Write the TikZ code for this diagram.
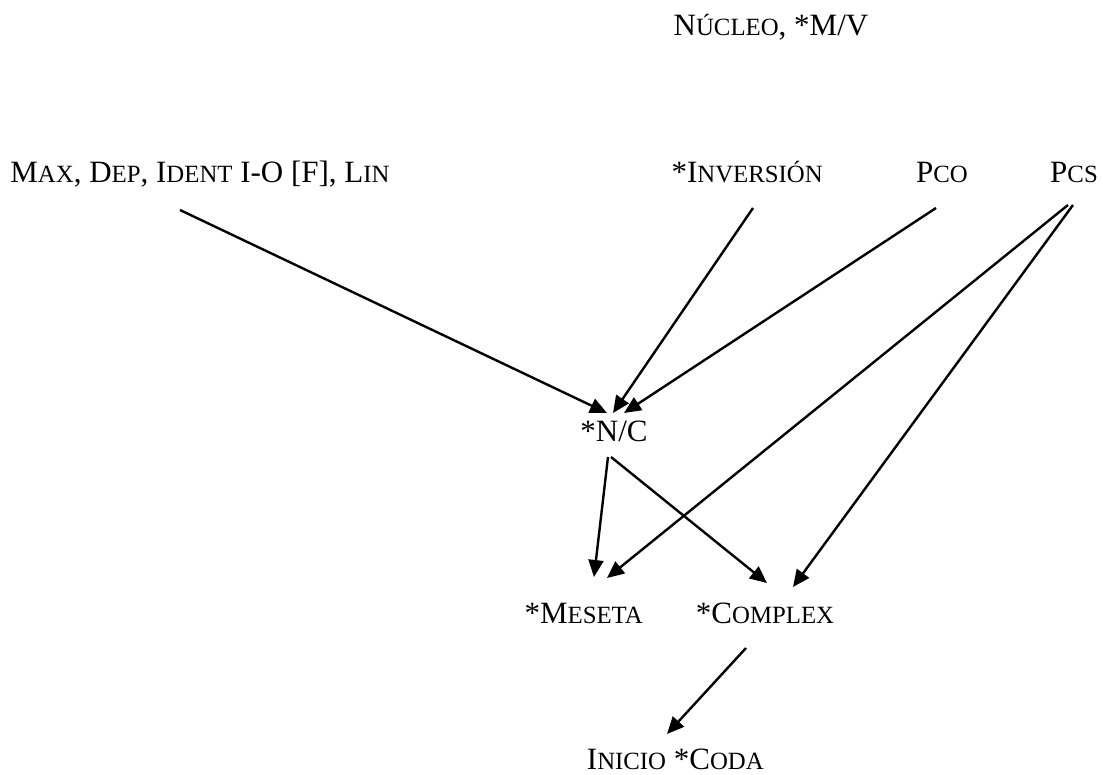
\documentclass[tikz,border=0pt]{standalone}
\usepackage{fontspec}
\setmainfont{Liberation Serif}
\usetikzlibrary{arrows.meta}
% hand-made small capitals: a full capital followed by reduced capitals
\newcommand\bigsz{\fontsize{31}{32}\selectfont}
\newcommand\smlsz{\fontsize{24.8}{26}\selectfont}
\newcommand\sk[2]{#1{\smlsz #2}}
\tikzset{
  lbl/.style={inner sep=0pt, font=\bigsz, anchor=base},
  arr/.style={line width=2.4pt, -{Triangle[length=17pt,width=15pt]}},
}
\begin{document}
\begin{tikzpicture}[x=1pt,y=-1pt]
\useasboundingbox (0,0) rectangle (1103,775);
% constraint labels
\node[lbl] (nuc)  at (771,36)  {\sk{N}{ÚCLEO}, *M/V};
\node[lbl] (max)  at (200,183) {\sk{M}{AX}, \sk{D}{EP}, \sk{I}{DENT} I-O [F], \sk{L}{IN}};
\node[lbl, anchor=base east] (inv) at (823,183) {*\sk{I}{NVERSIÓN}};
\node[lbl] (pco)  at (942,183) {\sk{P}{CO}};
\node[lbl] (pcs)  at (1074,183) {\sk{P}{CS}};
\node[lbl] (nc)   at (614,441) {*N/C};
\node[lbl, anchor=base east] (mes) at (643,623) {*\sk{M}{ESETA}};
\node[lbl] (cpx)  at (765,623) {*\sk{C}{OMPLEX}};
\node[lbl, anchor=base east, text depth=0pt] (ini) at (764,769) {\sk{I}{NICIO} *\sk{C}{ODA}};
% arrow end points
\coordinate (max-o) at (180,210);
\coordinate (inv-o) at (753,208);
\coordinate (pco-o) at (936,208);
\coordinate (pcs-a) at (1068,205);
\coordinate (pcs-b) at (1073,205);
\coordinate (nc-i1) at (607,413);
\coordinate (nc-i2) at (613,413);
\coordinate (nc-i3) at (624,413);
\coordinate (nc-oa) at (608,457);
\coordinate (nc-ob) at (611,457);
\coordinate (mes-i1) at (594,577);
\coordinate (mes-i2) at (607,578);
\coordinate (cpx-i1) at (767,583);
\coordinate (cpx-i2) at (793,587);
\coordinate (cpx-o) at (746,648);
\coordinate (ini-i) at (667,734);
% connectors
\draw[arr] (max-o) -- (nc-i1);
\draw[arr] (inv-o) -- (nc-i2);
\draw[arr] (pco-o) -- (nc-i3);
\draw[arr] (pcs-a) -- (mes-i2);
\draw[arr] (pcs-b) -- (cpx-i2);
\draw[arr] (nc-oa) -- (mes-i1);
\draw[arr] (nc-ob) -- (cpx-i1);
\draw[arr] (cpx-o) -- (ini-i);
\end{tikzpicture}
\end{document}
